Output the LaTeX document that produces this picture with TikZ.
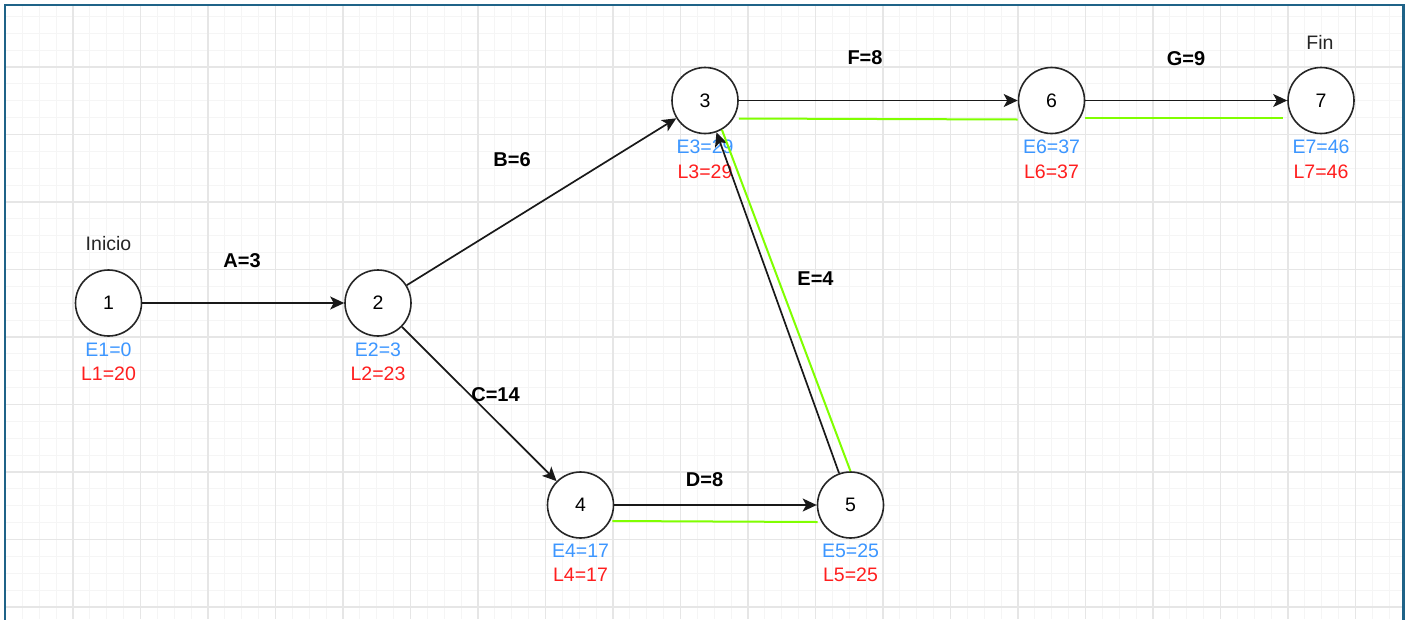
\documentclass[tikz,border=0pt]{standalone}
\usepackage{fontspec}
\setmainfont{Liberation Sans}
\usetikzlibrary{arrows.meta,calc}
\definecolor{gridminor}{RGB}{245,245,245}
\definecolor{gridmajor}{RGB}{230,230,230}
\definecolor{framecol}{RGB}{31,99,136}
\definecolor{eblue}{RGB}{60,150,255}
\definecolor{lred}{RGB}{255,30,30}
\definecolor{critgreen}{RGB}{128,255,0}
\begin{document}
\begin{tikzpicture}[x=1pt,y=-1pt,
  event/.style={circle,draw=black!85,line width=1.6pt,fill=white,minimum size=66pt,
    inner sep=0pt,font=\fontsize{19.5pt}{23pt}\selectfont},
  act/.style={draw=black!90,line width=1.7pt,-{Stealth[length=14pt,width=13pt,inset=3.5pt]}},
  crit/.style={draw=critgreen,line width=2pt},
  actlabel/.style={font=\bfseries\fontsize{20pt}{24pt}\selectfont,inner sep=0pt},
  times/.style={align=center,inner sep=0pt,anchor=north,
    font=\fontsize{19.5pt}{24.5pt}\selectfont},
  tag/.style={font=\fontsize{19.5pt}{24pt}\selectfont,text=black!85,inner sep=0pt}
]
\useasboundingbox (0,0) rectangle (1407,619);
\fill[white] (0,0) rectangle (1407,619);

% background grid inside the frame
\begin{scope}
  \clip (6,6) rectangle (1402,619);
  \foreach \i in {0,...,84}
    \draw[gridminor,line width=1pt] ({5.5+\i*16.875},0) -- ++(0,619);
  \foreach \j in {0,...,37}
    \draw[gridminor,line width=1pt] (0,{-0.5+\j*16.875}) -- ++(1407,0);
  \foreach \i in {0,...,21}
    \draw[gridmajor,line width=1.5pt] ({5.5+\i*67.5},0) -- ++(0,619);
  \foreach \j in {0,...,9}
    \draw[gridmajor,line width=1.5pt] (0,{-0.5+\j*67.5}) -- ++(1407,0);
\end{scope}

% frame
\draw[framecol,line width=2.6pt] (5,625) -- (5,5) -- (1403.5,5) -- (1403.5,625);

% events
\node[event] (n1) at (108.5,303) {1};
\node[event] (n2) at (378,303) {2};
\node[event] (n3) at (705,100.5) {3};
\node[event] (n4) at (580.5,505) {4};
\node[event] (n5) at (850.5,505) {5};
\node[event] (n6) at (1051.5,100.5) {6};
\node[event] (n7) at (1321,100.5) {7};

% start / end tags
\node[tag] (start) at (108.5,244) {Inicio};
\node[tag] (finish) at (1320,42) {Fin};

% early / late times
\node[times] (t1) at ($(n1)+(0,39.5)$) {\textcolor{eblue}{E1=0}\\\textcolor{lred}{L1=20}};
\node[times] (t2) at ($(n2)+(0,39.5)$) {\textcolor{eblue}{E2=3}\\\textcolor{lred}{L2=23}};
\node[times] (t3) at ($(n3)+(0,39.5)$) {\textcolor{eblue}{E3=29}\\\textcolor{lred}{L3=29}};
\node[times] (t4) at ($(n4)+(0,38.5)$) {\textcolor{eblue}{E4=17}\\\textcolor{lred}{L4=17}};
\node[times] (t5) at ($(n5)+(0,38.5)$) {\textcolor{eblue}{E5=25}\\\textcolor{lred}{L5=25}};
\node[times] (t6) at ($(n6)+(0,39.5)$) {\textcolor{eblue}{E6=37}\\\textcolor{lred}{L6=37}};
\node[times] (t7) at ($(n7)+(0,39.5)$) {\textcolor{eblue}{E7=46}\\\textcolor{lred}{L7=46}};

% activities
\draw[act] (n1) -- (n2);
\draw[act] (n2) -- (n3);
\draw[act] (n2) -- (n4);
\draw[act] (n4) -- (n5);
\draw[act] (n5) -- (n3);
\draw[act] (n3) -- (n6);
\draw[act] (n6) -- (n7);

% critical path
\draw[crit] ($(n3.east)+(0,18)$) -- ($(n6.west)+(0,19)$);
\draw[crit] ($(n6.east)+(0,17.5)$) -- ($(n7.west)+(-4,17.5)$);
\draw[crit] ($(n4.east)+(-2,16)$) -- ($(n5.west)+(1,17)$);
\draw[crit] (n3.-60) -- (n5.north);

% activity labels
\node[actlabel] (la) at (242,261) {A=3};
\node[actlabel] (lb) at (512,160) {B=6};
\node[actlabel] (lc) at (495.5,395) {C=14};
\node[actlabel] (ld) at (704.5,480) {D=8};
\node[actlabel] (le) at (815.5,278.5) {E=4};
\node[actlabel] (lf) at (865,58) {F=8};
\node[actlabel] (lg) at (1186,58.5) {G=9};
\end{tikzpicture}
\end{document}
